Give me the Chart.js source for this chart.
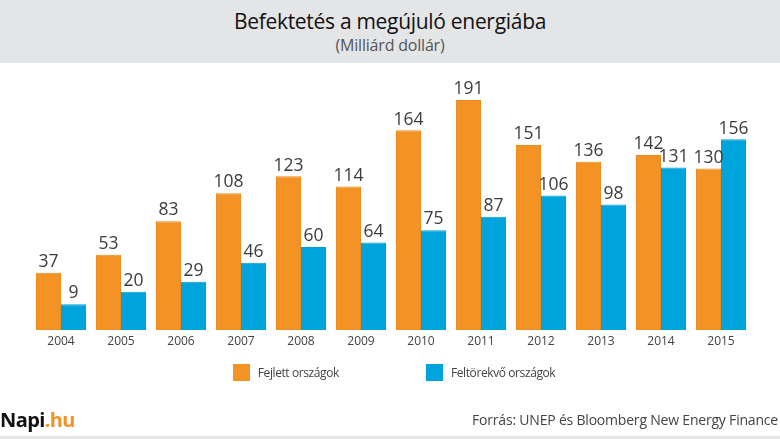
<!DOCTYPE html>
<html>
<head>
<meta charset="utf-8">
<script src="https://cdn.jsdelivr.net/npm/chart.js@4"></script>
<style>
  html, body { margin: 0; padding: 0; background: #fff; }
  body { width: 780px; height: 439px; position: relative; overflow: hidden; font-family: "Open Sans", sans-serif; }
  .header { position: absolute; left: 0; top: 0; width: 780px; height: 63px; background: #e4e5e7; text-align: center; }
  .title { position: absolute; left: 0; width: 780px; top: 7px; font-size: 21px; font-weight: 500; color: #111; letter-spacing: -0.3px; }
  .sub { position: absolute; left: 0; width: 780px; top: 34px; font-size: 16px; color: #555; letter-spacing: -0.2px; }
  #wrap { position: absolute; left: 0; top: 0; width: 780px; height: 439px; }
  .legend { position: absolute; left: 4px; width: 780px; top: 364px; display: flex; justify-content: center; gap: 87px; }
  .li { display: flex; align-items: center; font-size: 12px; color: #444; letter-spacing: -0.4px; }
  .sw { width: 17px; height: 17px; margin-right: 8px; }
  .brand { position: absolute; left: 0; top: 406px; font-size: 20px; font-weight: 700; color: #111; letter-spacing: -0.6px; }
  .brand span { color: #f39325; }
  .src { position: absolute; right: 2px; top: 410px; font-size: 14px; color: #444; letter-spacing: -0.2px; }
  .foot { position: absolute; left: 0; top: 436px; width: 780px; height: 3px; background: #e6e6e6; }
</style>
</head>
<body>
<div class="header">
  <div class="title">Befektetés a megújuló energiába</div>
  <div class="sub">(Milliárd dollár)</div>
</div>
<div id="wrap"><canvas id="chart"></canvas></div>
<div class="legend" id="legend"></div>
<div class="brand">Napi<span>.hu</span></div>
<div class="src">Forrás: UNEP és Bloomberg New Energy Finance</div>
<div class="foot"></div>
<script>
// =================== DATA ===================
const years = ["2004", "2005", "2006", "2007", "2008", "2009", "2010", "2011", "2012", "2013", "2014", "2015"];
const developed = [37, 53, 83, 108, 123, 114, 164, 191, 151, 136, 142, 130];
const emerging = [9, 20, 29, 46, 60, 64, 75, 87, 106, 98, 131, 156];

const AXIS_MIN = -14; // bars in the original start below zero
const AXIS_MAX = 200;

const ORANGE = "#f39325";
const BLUE = "#00a4dc";

// value labels above bars
const valueLabels = {
  id: "valueLabels",
  afterDatasetsDraw(chart) {
    const ctx = chart.ctx;
    ctx.save();
    ctx.font = "17.5px 'Open Sans', sans-serif";
    ctx.fillStyle = "#3c3c3c";
    ctx.textAlign = "center";
    ctx.textBaseline = "bottom";
    chart.data.datasets.forEach((ds, i) => {
      chart.getDatasetMeta(i).data.forEach((bar, j) => {
        ctx.fillText(ds.data[j], bar.x, bar.y - 2);
      });
    });
    ctx.restore();
  },
};

const chart = new Chart(document.getElementById("chart"), {
  type: "bar",
  data: {
    labels: years,
    datasets: [
      { label: "Fejlett országok", data: developed, backgroundColor: ORANGE, borderColor: "#ec8a1c", borderWidth: 1, base: AXIS_MIN },
      { label: "Feltörekvő országok", data: emerging, backgroundColor: BLUE, borderColor: "#0a9dd2", borderWidth: 1, base: AXIS_MIN },
    ],
  },
  options: {
    responsive: true,
    maintainAspectRatio: false,
    animation: false,
    layout: { padding: { top: 90, left: 31, right: 29, bottom: 79 } },
    plugins: { legend: { display: false }, tooltip: { enabled: false } },
    datasets: { bar: { categoryPercentage: 50 / 60, barPercentage: 1.0 } },
    scales: {
      y: { display: false, min: AXIS_MIN, max: AXIS_MAX },
      x: {
        grid: { display: false, drawTicks: false },
        border: { display: false },
        ticks: { color: "#444", font: { family: "'Open Sans', sans-serif", size: 12 }, padding: 4 },
        afterFit(scale) { scale.height = 30; },
      },
    },
  },
  plugins: [valueLabels],
});

// html legend from datasets
const elLegend = document.getElementById("legend");
chart.data.datasets.forEach((ds) => {
  const item = document.createElement("div");
  item.className = "li";
  item.innerHTML = `<span class="sw" style="background:${ds.backgroundColor}"></span>${ds.label}`;
  elLegend.appendChild(item);
});
</script>
</body>
</html>
